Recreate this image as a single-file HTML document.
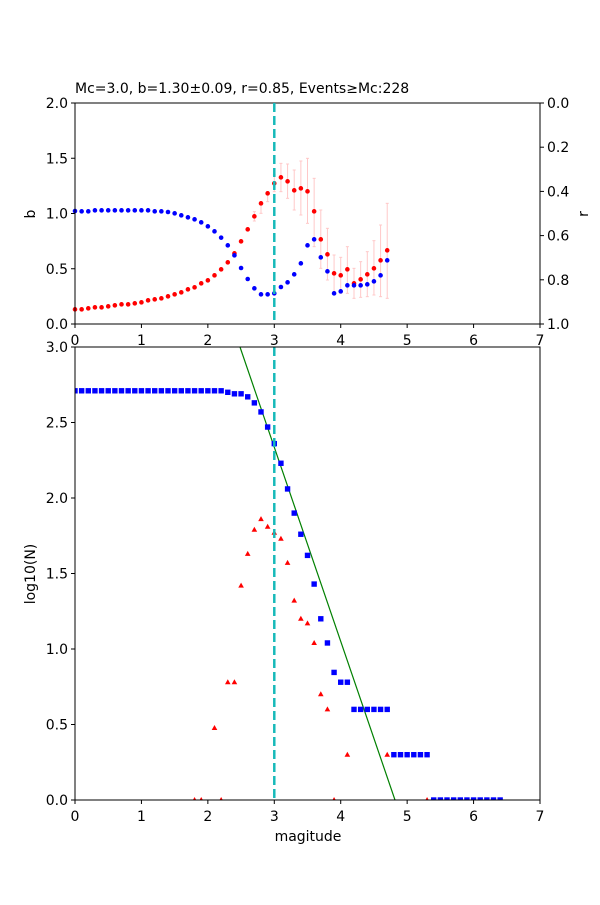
<!DOCTYPE html>
<html><head><meta charset="utf-8"><style>
html,body{margin:0;padding:0;background:#fff}
svg text{font-family:"DejaVu Sans","Liberation Sans",sans-serif;font-size:14px;fill:#000}
</style></head><body>
<svg id="s" width="600" height="900" xmlns="http://www.w3.org/2000/svg">
<text x="75" y="93">Mc=3.0, b=1.30±0.09, r=0.85, Events≥Mc:228</text>
<g id="top"></g><g id="bot"></g>
</svg>
<script>
const NS="http://www.w3.org/2000/svg";
function el(p,t,a,txt){const e=document.createElementNS(NS,t);for(const k in a)e.setAttribute(k,a[k]);if(txt!==undefined)e.textContent=txt;p.appendChild(e);return e;}
const s=document.getElementById('s');
const X=m=>75+m*66.43;
const DC='#17b9b9';
// top panel
const T=document.getElementById('top');
const tY=b=>324-b*110.5;
const blue=[183,184,184,181,181,181,181,181,181,181,181,181,184,184,186,190,196,202,208,217,229,244,263,286,316,354,387,415,433,433,430,411,397,373,340,286,268,322,364,430,424,406,406,406,403,394,376,331];
const red=[478,478,475,472,472,469,466,463,463,460,457,451,448,445,439,433,427,418,412,400,391,376,358,337,310,274,238,199,160,130,100,82,94,121,115,124,184,268,313,370,376,358,400,388,373,355,331,301];
const err={27:[185,213],28:[165,190],29:[125,155],30:[75,125],31:[40,125],32:[42,145],33:[60,180],34:[33,195],35:[25,220],36:[85,290],37:[180,355],38:[235,390],39:[315,425],40:[322,430],41:[290,430],42:[355,445],43:[335,442],44:[305,440],45:[272,435],46:[225,440],47:[160,445]};
for(const k in err){const x=X(k/10),y1=150+err[k][0]/3,y2=150+err[k][1]/3;
 el(T,'line',{x1:x,x2:x,y1:y1,y2:y2,stroke:'#ffc8c8','stroke-width':1});
 el(T,'line',{x1:x-1.5,x2:x+1.5,y1:y1,y2:y1,stroke:'#ffc8c8','stroke-width':1});
 el(T,'line',{x1:x-1.5,x2:x+1.5,y1:y2,y2:y2,stroke:'#ffc8c8','stroke-width':1});}
for(let i=0;i<48;i++){el(T,'circle',{cx:X(i/10),cy:150+red[i]/3,r:2.3,fill:'#f00'});}
for(let i=0;i<48;i++){el(T,'circle',{cx:X(i/10),cy:150+blue[i]/3,r:2.3,fill:'#00f'});}
el(T,'rect',{x:75,y:103,width:465,height:221,fill:'none',stroke:'#000','stroke-width':1});
for(let i=0;i<=7;i++){const x=X(i);el(T,'line',{x1:x,x2:x,y1:324,y2:328,stroke:'#000'});el(T,'text',{x:x,y:345,'text-anchor':'middle'},i);}
for(let i=0;i<=4;i++){const v=i*0.5,y=tY(v);el(T,'line',{x1:71,x2:75,y1:y,y2:y,stroke:'#000'});el(T,'text',{x:68,y:y+5,'text-anchor':'end'},v.toFixed(1));
}
for(let i=0;i<=5;i++){const y=103+i*44.2;el(T,'line',{x1:540,x2:544,y1:y,y2:y,stroke:'#000'});el(T,'text',{x:547,y:y+5},(i*0.2).toFixed(1));}
el(T,'text',{x:35,y:214,transform:'rotate(-90 35 214)','text-anchor':'middle'},'b');
el(T,'text',{x:588,y:214,transform:'rotate(-90 588 214)','text-anchor':'middle'},'r');
el(T,'line',{x1:X(3),x2:X(3),y1:103,y2:324,stroke:DC,'stroke-width':2.5,'stroke-dasharray':'9,4'});
// bottom
const B=document.getElementById('bot');
const bY=v=>800-v*151;
const cp=el(B,'clipPath',{id:'c'});el(cp,'rect',{x:75,y:347,width:465,height:453});
const g=el(B,'g',{'clip-path':'url(#c)'});
el(g,'line',{x1:240,y1:347,x2:395,y2:800,stroke:'#008000','stroke-width':1.2});
const bv=[];for(let i=0;i<=21;i++)bv.push([i/10,2.71]);
[[2.2,2.71],[2.3,2.70],[2.4,2.69],[2.5,2.69],[2.6,2.67],[2.7,2.63],[2.8,2.57],[2.9,2.47],[3.0,2.36],[3.1,2.23],[3.2,2.06],[3.3,1.90],[3.4,1.76],[3.5,1.62],[3.6,1.43],[3.7,1.20],[3.8,1.04],[3.9,0.845],[4.0,0.78],[4.1,0.78]].forEach(p=>bv.push(p));
for(let m=42;m<=47;m++)bv.push([m/10,0.60]);
for(let m=48;m<=53;m++)bv.push([m/10,0.30]);
for(let m=54;m<=64;m++)bv.push([m/10,0]);
const rv=[[1.8,0],[1.9,0],[2.1,0.477],[2.2,0],[2.3,0.78],[2.4,0.78],[2.5,1.42],[2.6,1.63],[2.7,1.79],[2.8,1.86],[2.9,1.81],[3.0,1.77],[3.1,1.73],[3.2,1.57],[3.3,1.32],[3.4,1.2],[3.5,1.17],[3.6,1.04],[3.7,0.70],[3.8,0.60],[3.9,0],[4.1,0.30],[4.7,0.30],[5.3,0]];
rv.forEach(p=>{const x=X(p[0]),y=bY(p[1]);el(g,'polygon',{points:`${x},${y-3} ${x-2.8},${y+2} ${x+2.8},${y+2}`,fill:'#f00'});});
bv.forEach(p=>{const x=X(p[0]),y=bY(p[1]);el(g,'rect',{x:x-2.7,y:y-2.7,width:5.4,height:5.4,fill:'#00f'});});
el(B,'line',{x1:X(3),x2:X(3),y1:347,y2:800,stroke:DC,'stroke-width':2.5,'stroke-dasharray':'9,4'});
el(B,'rect',{x:75,y:347,width:465,height:453,fill:'none',stroke:'#000','stroke-width':1});
for(let i=0;i<=7;i++){const x=X(i);el(B,'line',{x1:x,x2:x,y1:800,y2:804,stroke:'#000'});el(B,'text',{x:x,y:821,'text-anchor':'middle'},i);}
for(let i=0;i<=6;i++){const v=i*0.5,y=bY(v);el(B,'line',{x1:71,x2:75,y1:y,y2:y,stroke:'#000'});el(B,'text',{x:68,y:y+5,'text-anchor':'end'},v.toFixed(1));}
el(B,'text',{x:308,y:841,'text-anchor':'middle'},'magitude');
el(B,'text',{x:35,y:574,transform:'rotate(-90 35 574)','text-anchor':'middle'},'log10(N)');
</script>
</body></html>
